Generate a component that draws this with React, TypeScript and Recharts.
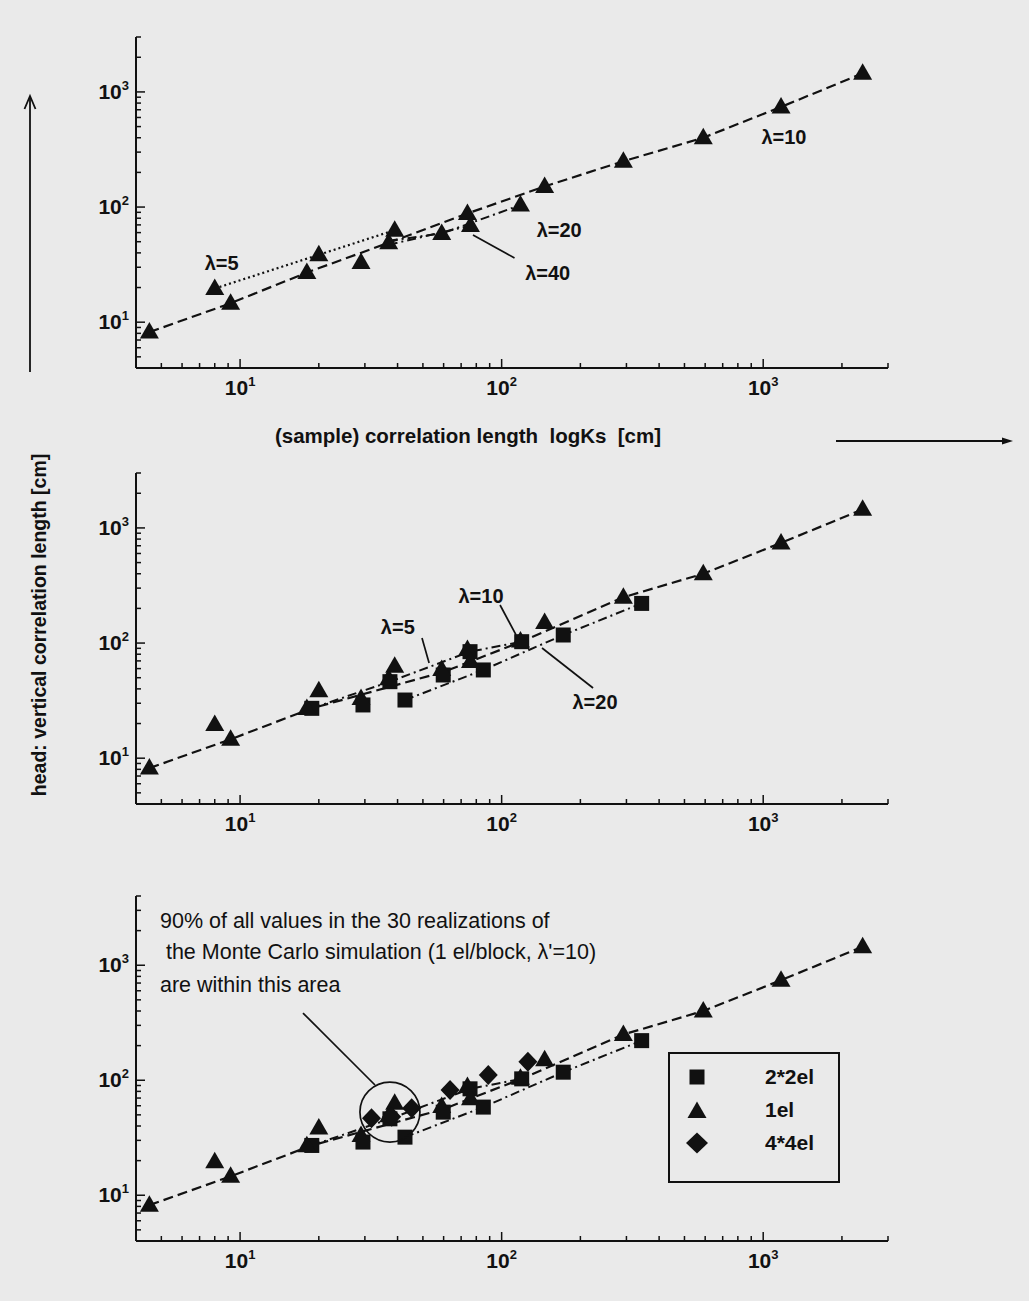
import React from 'react';
import { ScatterChart, Scatter, XAxis, YAxis, ReferenceLine, ReferenceDot, Legend } from 'recharts';

const INK = '#111111';
const BG = '#eaeaea';
const FONT = '"Liberation Sans", Arial, Helvetica, sans-serif';

// ---- data: 1el (triangles)
const el1X = [4.5, 8, 9.2, 18, 20, 29, 37, 39, 59, 74, 76, 118, 146, 292, 590, 1170, 2400];
const el1Y = [8.2, 19.6, 14.6, 27, 38.5, 33, 49, 63, 59, 88, 69, 104, 151, 250, 400, 741, 1450];
// ---- data: 2*2el (squares)
const el2X = [18.8, 29.5, 37.4, 42.7, 59.8, 75.7, 85.1, 119.3, 172, 343];
const el2Y = [27.1, 29, 46.2, 32, 52.8, 84.2, 58.4, 102.8, 117.5, 221];
// ---- data: 4*4el (diamonds)
const el4X = [31.8, 38, 45.3, 63.5, 88.9, 126];
const el4Y = [46.7, 48.2, 57, 82.3, 111, 145];

// ---- connecting lines, top panel
const topL10X = [4.5, 9.2, 18, 37, 74, 146, 292, 590, 1170, 2400];
const topL10Y = [8.2, 14.6, 27, 49, 88, 151, 250, 400, 741, 1450];
const topL5X = [8, 20, 39];
const topL5Y = [19.6, 38.5, 63];
const topL20X = [37, 59, 118];
const topL20Y = [51, 59, 104];
const topL40X = [37, 76];
const topL40Y = [47, 69];

// ---- connecting lines, middle & bottom panels
const midL10X = [4.5, 9.2, 18.8, 59.8, 119.3, 292, 590, 1170, 2400];
const midL10Y = [8.2, 14.6, 27.1, 56, 103, 250, 400, 741, 1450];
const midL5X = [18.8, 37.4, 75.7, 119.3];
const midL5Y = [27.1, 46.2, 84.2, 102.8];
const midL20X = [42.7, 85.1, 172, 343];
const midL20Y = [32, 58.4, 117.5, 221];

// ---- ticks
const xTicks = [5, 6, 7, 8, 9, 10, 20, 30, 40, 50, 60, 70, 80, 90, 100, 200, 300, 400, 500, 600, 700, 800, 900, 1000, 2000, 3000];
const yTicksA = [5, 6, 7, 8, 9, 10, 20, 30, 40, 50, 60, 70, 80, 90, 100, 200, 300, 400, 500, 600, 700, 800, 900, 1000, 2000, 3000];
const yTicksB = [5, 6, 7, 8, 9, 10, 20, 30, 40, 50, 60, 70, 80, 90, 100, 200, 300, 400, 500, 600, 700, 800, 900, 1000, 2000, 3000, 4000];
const majorTicks = [10, 100, 1000];
const majorExps = ['1', '2', '3'];

// ---- annotations (data coordinates)
const topLabels = [
  { text: 'λ=5', x: 8.5, y: 32.7 },
  { text: 'λ=10', x: 1200, y: 406 },
  { text: 'λ=20', x: 166, y: 63 },
  { text: 'λ=40', x: 150, y: 26.8 },
];
const topPointers = [[{ x: 77.7, y: 57.2 }, { x: 112, y: 36.1 }]];
const midLabels = [
  { text: 'λ=5', x: 40.1, y: 138 },
  { text: 'λ=10', x: 83.4, y: 256 },
  { text: 'λ=20', x: 227.5, y: 30.8 },
];
const midPointers = [
  [{ x: 49.6, y: 110.8 }, { x: 52.8, y: 67.2 }],
  [{ x: 98.6, y: 214 }, { x: 113.5, y: 117.6 }],
  [{ x: 142.7, y: 90.6 }, { x: 223.6, y: 40.7 }],
];
const noteLines = [
  '90% of all values in the 30 realizations of',
  ' the Monte Carlo simulation (1 el/block, λ\'=10)',
  'are within this area',
];
const noteX = [4.94, 4.94, 4.94];
const noteY = [2108, 1133, 585];
const circleCenter = { x: 37.4, y: 52.9 };
const notePointer = [{ x: 17.4, y: 384 }, { x: 32.8, y: 90.9 }];
const legendOrder = ['2*2el', '1el', '4*4el'];

const zip = (xs: number[], ys: number[]) => xs.map((x, i) => ({ x, y: ys[i] }));

const el1 = zip(el1X, el1Y);
const el2 = zip(el2X, el2Y);
const el4 = zip(el4X, el4Y);

// ---- shapes
const tri = (cx: number, cy: number, s = 1) =>
  `${cx},${cy - 10 * s} ${cx - 9.5 * s},${cy + 6.5 * s} ${cx + 9.5 * s},${cy + 6.5 * s}`;
const TriangleShape = (p: any) => <polygon points={tri(p.cx, p.cy)} fill={INK} />;
const SquareShape = (p: any) => <rect x={p.cx - 7.5} y={p.cy - 7.5} width={15} height={15} fill={INK} />;
const DiamondShape = (p: any) => (
  <polygon points={`${p.cx},${p.cy - 10} ${p.cx + 9.5},${p.cy} ${p.cx},${p.cy + 10} ${p.cx - 9.5},${p.cy}`} fill={INK} />
);
const EmptyShape = () => <g />;

const XTick = (props: any) => {
  const { x, y, payload } = props;
  const idx = majorTicks.indexOf(payload.value);
  const major = idx >= 0;
  return (
    <g>
      <line x1={x} x2={x} y1={y} y2={y - (major ? 9 : 5)} stroke={INK} strokeWidth={1.5} />
      {major && (
        <text x={x} y={y + 27} textAnchor="middle" fontFamily={FONT} fontWeight="bold" fontSize={21} fill={INK}>
          10<tspan dy={-9} fontSize={13}>{majorExps[idx]}</tspan>
        </text>
      )}
    </g>
  );
};

const YTick = (props: any) => {
  const { x, y, payload } = props;
  const idx = majorTicks.indexOf(payload.value);
  const major = idx >= 0;
  return (
    <g>
      <line x1={x} x2={x + (major ? 9 : 5)} y1={y} y2={y} stroke={INK} strokeWidth={1.5} />
      {major && (
        <text x={x - 7} y={y + 7} textAnchor="end" fontFamily={FONT} fontWeight="bold" fontSize={21} fill={INK}>
          10<tspan dy={-9} fontSize={13}>{majorExps[idx]}</tspan>
        </text>
      )}
    </g>
  );
};

const lineSeries = (xs: number[], ys: number[], dash: string, key: string, w = 2.2) => (
  <Scatter
    key={key}
    name={key}
    data={zip(xs, ys)}
    fill={INK}
    line={{ stroke: INK, strokeWidth: w, strokeDasharray: dash }}
    lineType="joint"
    shape={EmptyShape}
    legendType="none"
    isAnimationActive={false}
  />
);

const DASH = '10 5';
const DOT = '2 3';
const DASHDOT = '9 4 2 4';

const labelDot = (l: { text: string; x: number; y: number }, key: string) => (
  <ReferenceDot
    key={key}
    x={l.x}
    y={l.y}
    r={0}
    shape={(p: any) => (
      <text x={p.cx} y={p.cy} textAnchor="middle" dominantBaseline="central" fontFamily={FONT} fontWeight="bold" fontSize={20} fill={INK}>
        {l.text}
      </text>
    )}
  />
);

const pointer = (seg: { x: number; y: number }[], key: string) => (
  <ReferenceLine key={key} segment={seg as any} stroke={INK} strokeWidth={1.7} />
);

const axes = (yDomain: number[], yTicks: number[]) => [
  <XAxis
    key="xa"
    type="number"
    dataKey="x"
    scale="log"
    domain={[4, 3000]}
    allowDataOverflow
    ticks={xTicks}
    interval={0}
    tick={XTick}
    tickLine={false}
    tickSize={0}
    tickMargin={0}
    axisLine={{ stroke: INK, strokeWidth: 2 }}
    height={30}
  />,
  <YAxis
    key="ya"
    type="number"
    dataKey="y"
    scale="log"
    domain={yDomain}
    allowDataOverflow
    ticks={yTicks}
    interval={0}
    tick={YTick}
    tickLine={false}
    tickSize={0}
    tickMargin={0}
    axisLine={{ stroke: INK, strokeWidth: 2 }}
    width={60}
  />,
];

const LegendBox = (props: any) => {
  const payload = (props.payload || []) as any[];
  const items = payload
    .filter((p) => legendOrder.includes(p.value))
    .sort((a, b) => legendOrder.indexOf(a.value) - legendOrder.indexOf(b.value));
  return (
    <div style={{ width: 172, height: 131, border: `2px solid ${INK}`, boxSizing: 'border-box', position: 'relative' }}>
      {items.map((it, i) => (
        <div key={it.value} style={{ position: 'absolute', left: 0, top: 23 + i * 33 - 12, width: '100%', height: 24 }}>
          <svg width={30} height={24} style={{ position: 'absolute', left: 12, top: 0 }}>
            {it.value === '2*2el' && <rect x={7.5} y={4.5} width={15} height={15} fill={INK} />}
            {it.value === '1el' && <polygon points={tri(15, 13.5, 1)} fill={INK} />}
            {it.value === '4*4el' && <polygon points="15,1.5 26,12 15,22.5 4,12" fill={INK} />}
          </svg>
          <span
            style={{
              position: 'absolute',
              left: 95,
              top: 0,
              lineHeight: '24px',
              fontFamily: FONT,
              fontWeight: 'bold',
              fontSize: 21,
              color: INK,
              whiteSpace: 'nowrap',
            }}
          >
            {it.value}
          </span>
        </div>
      ))}
    </div>
  );
};

const markerSeries = (withDiamonds: boolean, withSquares: boolean) => {
  const out: any[] = [];
  if (withSquares)
    out.push(<Scatter key="sq" name="2*2el" data={el2} fill={INK} shape={SquareShape} legendType="square" isAnimationActive={false} />);
  out.push(<Scatter key="tr" name="1el" data={el1} fill={INK} shape={TriangleShape} legendType="triangle" isAnimationActive={false} />);
  if (withDiamonds)
    out.push(<Scatter key="di" name="4*4el" data={el4} fill={INK} shape={DiamondShape} legendType="diamond" isAnimationActive={false} />);
  return out;
};

export default function App() {
  return (
    <div style={{ position: 'absolute', left: 0, top: 0, width: 1029, height: 1301, background: BG, overflow: 'hidden' }}>
      {/* top panel */}
      <div style={{ position: 'absolute', left: 0, top: 0 }}>
        <ScatterChart width={1029} height={420} margin={{ top: 37, right: 141, bottom: 22, left: 76 }}>
          {axes([4, 3000], yTicksA)}
          {lineSeries(topL10X, topL10Y, DASH, 'topL10')}
          {lineSeries(topL5X, topL5Y, DOT, 'topL5')}
          {lineSeries(topL20X, topL20Y, DASHDOT, 'topL20', 2)}
          {lineSeries(topL40X, topL40Y, DASHDOT, 'topL40', 2)}
          {markerSeries(false, false)}
          {topPointers.map((s, i) => pointer(s, 'tp' + i))}
          {topLabels.map((l, i) => labelDot(l, 'tl' + i))}
        </ScatterChart>
      </div>

      {/* middle panel */}
      <div style={{ position: 'absolute', left: 0, top: 440 }}>
        <ScatterChart width={1029} height={420} margin={{ top: 33, right: 141, bottom: 26, left: 76 }}>
          {axes([4, 3000], yTicksA)}
          {lineSeries(midL10X, midL10Y, DASH, 'midL10')}
          {lineSeries(midL5X, midL5Y, DASHDOT, 'midL5', 2)}
          {lineSeries(midL20X, midL20Y, DASHDOT, 'midL20', 2)}
          {markerSeries(false, true)}
          {midPointers.map((s, i) => pointer(s, 'mp' + i))}
          {midLabels.map((l, i) => labelDot(l, 'ml' + i))}
        </ScatterChart>
      </div>

      {/* bottom panel */}
      <div style={{ position: 'absolute', left: 0, top: 860 }}>
        <ScatterChart width={1029} height={441} margin={{ top: 36, right: 141, bottom: 30, left: 76 }}>
          {axes([4, 4000], yTicksB)}
          {lineSeries(midL10X, midL10Y, DASH, 'botL10')}
          {lineSeries(midL5X, midL5Y, DASHDOT, 'botL5', 2)}
          {lineSeries(midL20X, midL20Y, DASHDOT, 'botL20', 2)}
          {markerSeries(true, true)}
          <ReferenceDot x={circleCenter.x} y={circleCenter.y} r={30} fill="none" stroke={INK} strokeWidth={1.7} />
          {pointer(notePointer, 'np')}
          {noteLines.map((t, i) => (
            <ReferenceDot
              key={'nl' + i}
              x={noteX[i]}
              y={noteY[i]}
              r={0}
              shape={(p: any) => (
                <text x={p.cx} y={p.cy} textAnchor="start" fontFamily={FONT} fontSize={21.5} fill={INK} style={{ whiteSpace: 'pre' }}>
                  {t}
                </text>
              )}
            />
          ))}
          <Legend
            layout="vertical"
            align="center"
            verticalAlign="middle"
            content={LegendBox}
            wrapperStyle={{ left: 668, top: 192, width: 172, height: 131 }}
          />
        </ScatterChart>
      </div>

      {/* overall axis titles and arrows */}
      <svg width={1029} height={1301} style={{ position: 'absolute', left: 0, top: 0, pointerEvents: 'none' }}>
        <line x1={30} y1={372} x2={30} y2={97} stroke={INK} strokeWidth={1.8} />
        <polyline points="24.5,109 30,96 35.5,109" fill="none" stroke={INK} strokeWidth={1.8} />
        <line x1={836} y1={441} x2={1006} y2={441} stroke={INK} strokeWidth={1.8} />
        <polygon points="1013,441 1002,437.5 1002,444.5" fill={INK} />
        <text
          x={468}
          y={443}
          textAnchor="middle"
          fontFamily={FONT}
          fontWeight="bold"
          fontSize={20.5}
          fill={INK}
          style={{ whiteSpace: 'pre' }}
        >
          {'(sample) correlation length  logKs  [cm]'}
        </text>
        <text
          x={0}
          y={0}
          transform="translate(46,625) rotate(-90)"
          textAnchor="middle"
          fontFamily={FONT}
          fontWeight="bold"
          fontSize={19.5}
          fill={INK}
        >
          head: vertical correlation length [cm]
        </text>
      </svg>
    </div>
  );
}
